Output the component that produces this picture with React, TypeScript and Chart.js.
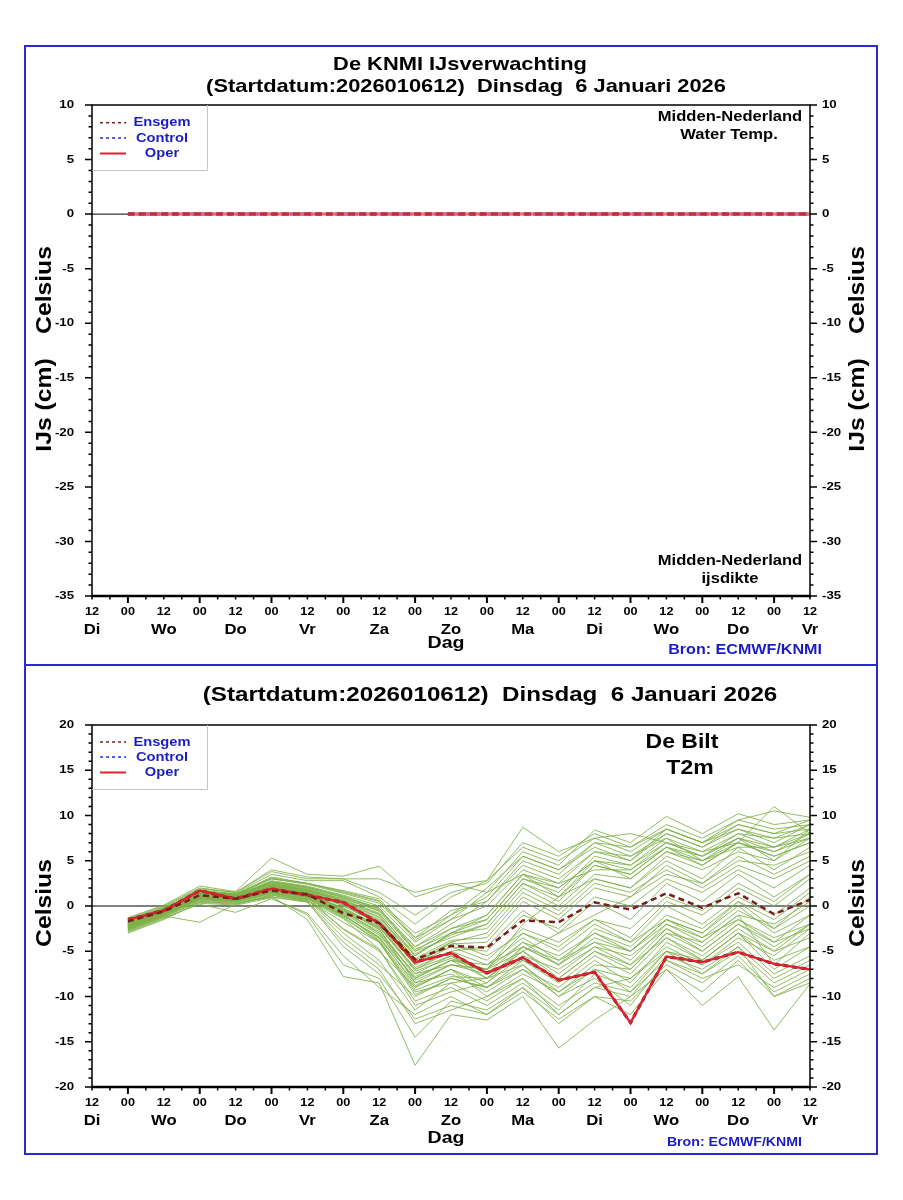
import React, { useEffect, useRef } from 'react';
import { Chart, registerables } from 'chart.js';

Chart.register(...registerables);

const FONT = '"Liberation Sans", Arial, Helvetica, sans-serif';
const SX = 1.15;

// x positions in 12-hour steps after Di 12 UTC (0 .. 20)
const HOUR_LABELS = ['12', '00', '12', '00', '12', '00', '12', '00', '12', '00', '12', '00', '12', '00', '12', '00', '12', '00', '12', '00', '12'];
const DAY_LABELS = ['Di', 'Wo', 'Do', 'Vr', 'Za', 'Zo', 'Ma', 'Di', 'Wo', 'Do', 'Vr'];
const X_STEPS = [1, 2, 3, 4, 5, 6, 7, 8, 9, 10, 11, 12, 13, 14, 15, 16, 17, 18, 19, 20];

const ICE_TICKS = [10, 5, 0, -5, -10, -15, -20, -25, -30, -35];
const T2M_TICKS = [20, 15, 10, 5, 0, -5, -10, -15, -20];

// Ice panel (all zero)
const ICE_OPER = [0, 0, 0, 0, 0, 0, 0, 0, 0, 0, 0, 0, 0, 0, 0, 0, 0, 0, 0, 0];
const ICE_CONTROL = [0, 0, 0, 0, 0, 0, 0, 0, 0, 0, 0, 0, 0, 0, 0, 0, 0, 0, 0, 0];
const ICE_ENSGEM = [0, 0, 0, 0, 0, 0, 0, 0, 0, 0, 0, 0, 0, 0, 0, 0, 0, 0, 0, 0];
const ICE_MEMBER = [0, 0, 0, 0, 0, 0, 0, 0, 0, 0, 0, 0, 0, 0, 0, 0, 0, 0, 0, 0];

// T2m De Bilt
const T2M_OPER = [-1.5, -0.5, 1.7, 0.8, 1.9, 1.2, 0.4, -1.9, -6.2, -5.2, -7.4, -5.7, -8.2, -7.3, -12.9, -5.6, -6.2, -5.1, -6.4, -7.0];
const T2M_CONTROL = [-1.5, -0.5, 1.7, 0.8, 1.9, 1.2, 0.4, -1.9, -6.2, -5.2, -7.4, -5.7, -8.2, -7.3, -12.9, -5.6, -6.2, -5.1, -6.4, -7.0];
const T2M_ENSGEM = [-1.7, -0.6, 1.2, 0.8, 1.7, 1.3, -0.8, -1.9, -5.9, -4.4, -4.6, -1.6, -1.8, 0.4, -0.4, 1.4, -0.2, 1.4, -0.9, 0.7];

const T2M_MEMBERS: number[][] = [
  [-2.0, -0.8, 1.0, 0.9, 2.2, 1.8, 0.5, -1.2, -5.5, -3.0, -1.0, 3.5, 2.0, 5.0, 4.0, 7.0, 5.5, 7.5, 6.0, 8.0],
  [-1.8, -0.5, 1.5, 1.2, 3.0, 2.5, 1.5, 0.5, -3.0, -1.0, 2.0, 5.5, 4.0, 6.5, 5.0, 8.0, 6.5, 8.5, 7.0, 9.0],
  [-2.4, -1.0, 0.8, 0.5, 1.5, 0.8, -1.0, -3.5, -8.0, -6.0, -7.0, -2.0, 1.0, 3.0, 2.0, 5.5, 4.0, 6.0, 5.0, 7.5],
  [-1.5, -0.3, 1.8, 1.3, 2.5, 1.8, 0.8, -0.5, -4.5, -2.0, 0.5, 4.5, 3.0, 6.0, 5.5, 7.5, 5.0, 6.5, 6.5, 8.5],
  [-2.7, -1.2, 0.5, 0.3, 1.0, 0.5, -3.5, -6.5, -10.0, -8.0, -9.0, -6.0, -8.0, -5.0, -7.0, -3.0, -5.0, -2.0, -4.0, -1.0],
  [-2.2, -0.6, 1.2, 1.0, 2.0, 1.5, 0.0, -2.0, -7.0, -5.5, -8.0, -6.5, -10.0, -8.0, -11.0, -6.0, -8.0, -6.5, -9.0, -7.0],
  [-1.9, -0.4, 1.4, 1.1, 2.8, 2.2, 1.2, 0.0, -4.0, -1.5, 1.5, 6.0, 4.5, 8.4, 7.0, 9.9, 8.0, 10.2, 9.0, 9.5],
  [-2.5, -0.9, 0.9, 0.7, 1.8, 1.0, -2.6, -5.0, -9.0, -7.0, -10.0, -8.0, -12.0, -9.0, -10.0, -5.5, -7.0, -4.5, -8.0, -6.0],
  [-1.6, -0.2, 1.6, 1.4, 3.5, 2.8, 2.8, 1.0, -2.0, 1.0, 2.8, 6.5, 5.0, 7.5, 6.0, 8.5, 7.0, 9.0, 8.0, 8.5],
  [-2.1, -0.7, 1.1, 0.8, 1.6, 1.0, -0.5, -3.0, -7.5, -6.5, -7.5, -4.0, -5.5, -3.0, -4.5, -1.0, -2.5, 0.5, -1.5, 1.5],
  [-2.3, -0.8, 1.3, 1.0, 2.2, 1.5, 0.2, -1.8, -6.5, -4.5, -5.0, -1.0, -2.5, 1.0, 0.0, 3.0, 1.5, 4.0, 2.0, 4.5],
  [-2.8, -1.3, 0.2, -0.7, 0.8, -0.8, -5.5, -9.0, -12.0, -10.0, -12.0, -9.0, -13.0, -10.0, -12.0, -7.0, -9.5, -6.0, -10.0, -8.0],
  [-1.7, -0.5, 1.6, 1.2, 2.6, 2.0, 1.0, -0.2, -5.0, -3.5, -2.0, 2.5, 0.5, 4.5, 3.5, 6.5, 4.5, 7.0, 5.5, 7.0],
  [-2.0, -0.6, 1.0, 0.9, 2.0, 1.4, -0.3, -2.5, -8.5, -7.5, -9.5, -7.0, -9.0, -6.0, -8.5, -4.0, -6.0, -3.0, -7.0, -4.5],
  [-2.6, -1.1, -1.8, 0.2, 1.2, 0.6, -1.8, -4.0, -9.5, -8.5, -8.0, -5.0, -3.0, -1.0, 1.0, 3.5, 2.5, 5.0, 4.5, 6.0],
  [-1.4, 0.0, 2.0, 1.5, 4.0, 3.2, 3.0, 3.0, 1.5, 2.5, 1.5, 3.5, 2.5, 4.0, 4.0, 6.5, 5.5, 8.0, 7.5, 8.0],
  [-2.2, -0.7, 1.2, 0.9, 1.9, 1.2, -0.8, -3.2, -8.0, -6.0, -6.5, -3.5, -6.0, -4.0, -6.0, -2.0, -4.0, -1.0, -6.5, -3.0],
  [-1.8, -0.4, 1.4, 1.2, 2.4, 1.7, 0.6, -1.0, -6.0, -4.0, -3.0, 1.5, -0.5, 3.0, 2.0, 5.0, 3.0, 6.5, 4.0, 6.5],
  [-2.4, -1.0, 0.8, 0.6, 1.4, 0.7, -2.5, -4.8, -10.5, -9.0, -11.0, -8.5, -11.5, -7.5, -9.0, -5.0, -6.5, -3.5, -5.5, -2.5],
  [-2.0, -0.5, 1.3, 1.0, 2.3, 1.6, 0.3, -1.5, -6.0, -4.5, -6.0, -2.5, -4.0, -1.5, -3.5, 0.5, -1.0, 2.0, 0.0, 3.0],
  [-1.6, -0.3, 1.7, 1.3, 3.2, 2.5, 1.7, 0.8, -3.5, -0.5, 0.5, 5.0, 3.5, 7.0, 6.5, 9.0, 7.5, 9.5, 10.5, 9.8],
  [-2.3, -0.9, 1.0, 0.7, 1.7, 1.1, -0.9, -3.8, -9.0, -7.0, -8.5, -5.5, -7.0, -4.5, -5.5, -2.5, -4.5, -1.5, -3.5, -2.0],
  [-3.0, -1.5, 0.4, 0.2, 1.1, -1.5, -7.8, -8.5, -17.6, -12.0, -12.6, -10.0, -15.7, -12.6, -10.0, -7.0, -11.0, -7.8, -13.7, -8.6],
  [-1.9, -0.6, 1.5, 1.1, 2.7, 2.1, 1.1, -0.3, -4.5, -2.5, -1.5, 3.0, 1.5, 5.5, 4.5, 7.5, 6.0, 8.0, 6.5, 7.5],
  [-2.1, -0.7, 1.1, 0.8, 1.8, 1.2, -0.6, -2.8, -7.5, -5.5, -7.5, -6.0, -8.5, -5.5, -7.5, -3.5, -5.5, -2.5, -5.0, -3.5],
  [-2.5, -1.0, 0.7, 0.5, 1.3, 0.6, -1.4, -4.8, -11.0, -9.5, -8.5, -4.5, -6.5, -2.5, -4.0, 0.0, -2.0, 1.0, -1.0, 2.0],
  [-1.7, -0.2, 1.5, 1.3, 3.0, 2.4, 1.4, 0.3, -3.5, -1.5, 0.0, 4.0, 2.5, 6.0, 5.0, 8.5, 7.0, 8.5, 7.5, 9.0],
  [-2.2, -0.8, 1.2, 0.9, 2.1, 1.4, -0.2, -2.2, -7.0, -5.0, -4.5, -0.5, -3.0, 0.5, -1.5, 2.5, 0.5, 3.5, 1.0, 3.5],
  [-2.6, -1.1, 0.6, 0.4, 1.2, 0.5, -4.5, -7.5, -12.5, -11.0, -12.0, -9.5, -12.5, -10.0, -10.5, -6.5, -8.5, -5.5, -9.5, -7.5],
  [-2.0, -0.5, 1.3, 1.0, 2.1, 1.5, 0.1, -2.0, -6.5, -4.0, -5.5, -3.0, -5.0, -2.0, -4.0, -1.5, -3.0, 0.0, -3.0, -1.0],
  [-1.5, -0.1, 1.9, 1.5, 3.8, 3.0, 3.0, 1.5, -1.0, 1.5, 2.5, 7.0, 5.5, 8.0, 6.5, 8.5, 7.0, 9.5, 8.5, 9.0],
  [-2.3, -0.9, 0.9, 0.7, 1.6, 1.0, -1.0, -3.6, -8.5, -6.5, -7.0, -3.0, -4.5, -1.5, -2.5, 1.0, -0.5, 2.5, 0.5, 3.5],
  [-2.1, -0.6, 1.2, 0.9, 2.0, 1.3, -0.4, -2.6, -7.8, -6.0, -8.0, -5.0, -7.5, -4.5, -6.5, -2.5, -5.0, -2.0, -4.5, -2.0],
  [-1.8, -0.4, 1.4, 1.1, 2.5, 1.9, 0.7, -0.8, -5.5, -3.0, -2.5, 2.0, 0.0, 3.5, 3.0, 6.0, 4.5, 7.0, 5.5, 7.0],
  [-2.4, -1.0, 0.8, 0.6, 1.5, 0.8, -1.3, -4.0, -9.8, -8.0, -9.0, -7.0, -10.0, -7.0, -8.0, -4.5, -6.5, -4.0, -7.5, -5.5],
  [-2.7, -1.2, 0.5, 0.3, 1.0, 0.4, -4.0, -7.0, -13.0, -11.5, -10.0, -7.5, -9.5, -6.5, -7.0, -3.0, -4.0, -1.0, -2.0, 0.5],
  [-1.9, -0.5, 1.5, 1.2, 2.6, 2.0, 0.9, -0.6, -5.0, -2.5, -1.0, 3.5, 1.0, 5.0, 3.0, 6.0, 5.0, 7.5, 5.0, 8.5],
  [-2.2, -0.7, 1.1, 0.8, 1.9, 1.3, -0.5, -2.4, -6.8, -5.0, -6.5, -4.5, -6.5, -3.5, -5.0, -2.0, -3.5, -1.5, -4.0, -2.5],
  [-2.0, -0.6, 1.3, 1.0, 2.2, 1.6, 0.2, -1.6, -6.2, -4.2, -4.0, 0.5, -1.5, 2.0, 1.0, 4.5, 2.5, 5.5, 3.5, 5.5],
  [-1.3, 0.1, 2.2, 1.6, 5.3, 3.5, 3.3, 4.4, 1.0, 2.3, 2.8, 8.7, 6.0, 7.5, 8.0, 7.0, 6.0, 7.0, 11.0, 8.0],
  [-2.5, -1.0, 0.7, 0.5, 1.4, 0.7, -3.0, -6.0, -11.5, -8.5, -10.5, -8.0, -11.0, -8.5, -9.5, -6.0, -7.5, -5.0, -8.5, -6.5],
  [-2.1, -0.7, 1.1, 0.8, 1.8, 1.2, -0.7, -3.0, -8.2, -6.5, -7.0, -4.0, -6.5, -4.0, -5.0, -1.5, -3.5, -0.5, -2.5, 0.0],
  [-1.8, -0.4, 1.5, 1.2, 2.7, 2.1, 1.0, -0.4, -4.8, -3.0, -1.5, 3.0, 2.0, 5.0, 4.5, 7.0, 5.5, 7.5, 6.5, 8.0],
  [-2.3, -0.8, 1.0, 0.8, 1.7, 1.0, -1.1, -3.4, -8.8, -7.0, -9.0, -6.5, -9.5, -7.0, -9.5, -5.0, -7.5, -4.5, -10.0, -8.5],
  [-2.0, -0.5, 1.3, 1.0, 2.3, 1.7, 0.4, -1.3, -5.8, -3.8, -3.5, 1.0, -1.0, 2.5, 1.5, 4.0, 2.0, 4.5, 3.0, 5.0],
  [-2.9, -1.4, 0.3, 0.1, 0.9, -1.0, -6.5, -8.0, -14.5, -10.5, -11.5, -9.0, -12.0, -9.0, -8.0, -5.0, -6.0, -3.0, -5.0, -2.0],
  [-1.7, -0.3, 1.6, 1.3, 3.1, 2.5, 1.6, 0.6, -3.8, -1.0, 1.0, 5.5, 4.0, 7.0, 5.5, 8.0, 6.5, 9.0, 8.0, 9.5],
  [-2.2, -0.8, 1.2, 0.9, 2.0, 1.4, -0.3, -2.3, -7.2, -5.8, -7.0, -5.0, -8.0, -5.0, -6.5, -3.5, -6.0, -3.0, -6.0, -4.5],
  [-2.4, -0.9, 0.9, 0.7, 1.6, 0.9, -1.2, -3.9, -9.3, -7.8, -8.0, -4.5, -6.0, -3.0, -5.0, -1.5, -3.0, 0.5, -2.5, 1.0],
  [-1.9, -0.5, 1.4, 1.1, 2.4, 1.8, 0.6, -0.9, -5.3, -3.2, -2.0, 2.5, 1.0, 4.5, 3.5, 6.5, 5.0, 7.0, 6.0, 7.5],
];

const BLUE_BORDER = '#2a2ad4';
const BLUE_TEXT = '#1c1cc4';
const GREEN = 'rgba(124,178,72,0.85)';
const OPER_RED = '#e0222c';
const ENSGEM_COLOR = '#7a1f1f';
const CONTROL_COLOR = '#2430d0';

type Txt = { text: string; x: number; y: number; size: number; align?: CanvasTextAlign; color?: string; rotate?: boolean; sx?: number };

function drawText(ctx: CanvasRenderingContext2D, t: Txt) {
  ctx.save();
  ctx.translate(t.x, t.y);
  if (t.rotate) ctx.rotate(-Math.PI / 2);
  ctx.scale(t.sx ?? SX, 1);
  ctx.font = `bold ${t.size}px ${FONT}`;
  ctx.textAlign = t.align ?? 'center';
  ctx.textBaseline = 'middle';
  ctx.fillStyle = t.color ?? '#000';
  ctx.fillText(t.text, 0, 0);
  ctx.restore();
}

type PanelSpec = {
  height: number;
  yMin: number;
  yMax: number;
  yTicks: number[];
  padBottom: number;
  texts: Txt[];
  legendTop: number;
  legendBottom: number;
  legendRows: number[];
  hourY: number;
  dayY: number;
  dagY: number;
};

function makePlugin(spec: PanelSpec) {
  return {
    id: 'knmiDecor',
    beforeDatasetsDraw(chart: any) {
      const ctx = chart.ctx as CanvasRenderingContext2D;
      const { left, right } = chart.chartArea;
      const y0 = chart.scales.y.getPixelForValue(0);
      ctx.save();
      ctx.strokeStyle = '#000';
      ctx.lineWidth = 1;
      ctx.beginPath();
      ctx.moveTo(left, y0);
      ctx.lineTo(right, y0);
      ctx.stroke();
      ctx.restore();
    },
    afterDatasetsDraw(chart: any) {
      const ctx = chart.ctx as CanvasRenderingContext2D;
      const { left, right, top, bottom } = chart.chartArea;
      const xs = chart.scales.x;
      const ys = chart.scales.y;
      ctx.save();
      // frame
      ctx.strokeStyle = '#000';
      ctx.lineWidth = 1.5;
      ctx.strokeRect(left, top, right - left, bottom - top);
      ctx.lineWidth = 2.5;
      ctx.beginPath();
      ctx.moveTo(left - 1, bottom);
      ctx.lineTo(right + 1, bottom);
      ctx.stroke();
      // y ticks (minor every unit, major every 5)
      ctx.lineWidth = 1.5;
      for (let v = spec.yMin; v <= spec.yMax; v += 1) {
        const py = ys.getPixelForValue(v);
        const len = v % 5 === 0 ? 7 : 3.5;
        ctx.beginPath();
        ctx.moveTo(left - len, py);
        ctx.lineTo(left, py);
        ctx.moveTo(right, py);
        ctx.lineTo(right + len, py);
        ctx.stroke();
      }
      // x ticks every 6h, long at 00
      for (let s = 0; s <= 40; s += 1) {
        const v = s / 2;
        const px = xs.getPixelForValue(v);
        const isMajor = s % 4 === 2;
        const len = isMajor ? 7 : 3.5;
        ctx.lineWidth = isMajor ? 2 : 1.5;
        ctx.beginPath();
        ctx.moveTo(px, bottom);
        ctx.lineTo(px, bottom + len);
        ctx.stroke();
      }
      ctx.restore();

      // y tick labels
      spec.yTicks.forEach((v) => {
        const py = ys.getPixelForValue(v);
        drawText(ctx, { text: String(v), x: left - 18, y: py, size: 11.5, align: 'right' });
        drawText(ctx, { text: String(v), x: right + 12, y: py, size: 11.5, align: 'left' });
      });
      // x tick labels
      HOUR_LABELS.forEach((lab, i) => {
        drawText(ctx, { text: lab, x: xs.getPixelForValue(i), y: spec.hourY, size: 11 });
      });
      DAY_LABELS.forEach((lab, i) => {
        drawText(ctx, { text: lab, x: xs.getPixelForValue(i * 2), y: spec.dayY, size: 14.5 });
      });
      drawText(ctx, { text: 'Dag', x: (left + right) / 2 - 5, y: spec.dagY, size: 17 });

      // legend box
      const lx0 = left;
      const lx1 = left + 115;
      ctx.save();
      ctx.fillStyle = '#fff';
      ctx.fillRect(lx0 + 1, spec.legendTop + 1, lx1 - lx0 - 1, spec.legendBottom - spec.legendTop - 1);
      ctx.strokeStyle = '#c4c4c4';
      ctx.lineWidth = 1;
      ctx.beginPath();
      ctx.moveTo(lx0, spec.legendBottom + 0.5);
      ctx.lineTo(lx1 + 0.5, spec.legendBottom + 0.5);
      ctx.lineTo(lx1 + 0.5, spec.legendTop);
      ctx.stroke();
      const rows = [
        { name: 'Ensgem', color: ENSGEM_COLOR, dash: [3, 3], w: 1.5 },
        { name: 'Control', color: CONTROL_COLOR, dash: [3, 3], w: 1.5 },
        { name: 'Oper', color: OPER_RED, dash: [] as number[], w: 2 },
      ];
      rows.forEach((r, i) => {
        const y = spec.legendRows[i];
        ctx.strokeStyle = r.color;
        ctx.lineWidth = r.w;
        ctx.setLineDash(r.dash);
        ctx.beginPath();
        ctx.moveTo(left + 8, y);
        ctx.lineTo(left + 34, y);
        ctx.stroke();
      });
      ctx.setLineDash([]);
      ctx.restore();
      rows.forEach((r, i) => {
        drawText(ctx, { text: r.name, x: left + 70, y: spec.legendRows[i], size: 13, color: BLUE_TEXT, sx: 1.13 });
      });

      spec.texts.forEach((t) => drawText(ctx, t));
    },
  };
}

function buildDatasets(members: number[][], ensgem: number[], control: number[], oper: number[], ice: boolean) {
  const pts = (arr: number[]) => X_STEPS.map((x, i) => ({ x, y: arr[i] }));
  const ds: any[] = [];
  ds.push({
    label: 'Ensgem',
    data: pts(ensgem),
    borderColor: ice ? 'rgba(196,40,62,0.95)' : ENSGEM_COLOR,
    borderWidth: ice ? 3.5 : 2.5,
    borderDash: ice ? [7, 4] : [6, 4],
    order: 1,
  });
  ds.push({
    label: 'Oper',
    data: pts(oper),
    borderColor: ice ? 'rgba(232,110,125,0.9)' : OPER_RED,
    borderWidth: ice ? 3.5 : 2.4,
    order: 2,
  });
  ds.push({
    label: 'Control',
    data: pts(control),
    borderColor: ice ? CONTROL_COLOR : '#6a1840',
    borderWidth: 3,
    borderDash: [5, 4],
    order: 3,
  });
  members.forEach((m, i) => {
    ds.push({ label: 'm' + (i + 1), data: pts(m), borderColor: GREEN, borderWidth: 1, order: 4 });
  });
  return ds;
}

const CANVAS_W = 854;

function Panel({ spec, datasets, top }: { spec: PanelSpec; datasets: any[]; top: number }) {
  const ref = useRef<HTMLCanvasElement>(null);
  useEffect(() => {
    const chart = new Chart(ref.current as HTMLCanvasElement, {
      type: 'line',
      data: { datasets },
      options: {
        animation: false,
        responsive: false,
        events: [],
        layout: { padding: { left: 68, right: 68, top: 60, bottom: spec.padBottom } },
        elements: { point: { radius: 0 }, line: { tension: 0 } },
        scales: {
          x: { type: 'linear', min: 0, max: 20, display: false },
          y: { type: 'linear', min: spec.yMin, max: spec.yMax, display: false },
        },
        plugins: { legend: { display: false }, tooltip: { enabled: false }, title: { display: false } },
      },
      plugins: [makePlugin(spec)],
    } as any);
    return () => chart.destroy();
  }, []);
  return (
    <canvas
      ref={ref}
      width={CANVAS_W}
      height={spec.height}
      style={{ position: 'absolute', left: 16, top, width: CANVAS_W, height: spec.height }}
    />
  );
}

const ICE_SPEC: PanelSpec = {
  height: 620,
  yMin: -35,
  yMax: 10,
  yTicks: ICE_TICKS,
  padBottom: 69,
  hourY: 567,
  dayY: 585,
  dagY: 598,
  legendTop: 60,
  legendBottom: 125,
  legendRows: [77.7, 93, 108.5],
  texts: [
    { text: 'De KNMI IJsverwachting', x: 436, y: 20, size: 19 },
    { text: '(Startdatum:2026010612)  Dinsdag  6 Januari 2026', x: 442, y: 42, size: 19 },
    { text: 'Midden-Nederland', x: 706, y: 72, size: 14.4 },
    { text: 'Water Temp.', x: 705, y: 90, size: 14.4 },
    { text: 'Midden-Nederland', x: 706, y: 516, size: 14.4 },
    { text: 'ijsdikte', x: 706, y: 534, size: 14.4 },
    { text: 'Celsius', x: 21, y: 245, size: 21.5, rotate: true },
    { text: 'IJs (cm)', x: 21, y: 360, size: 21.5, rotate: true },
    { text: 'Celsius', x: 834, y: 245, size: 21.5, rotate: true },
    { text: 'IJs (cm)', x: 834, y: 360, size: 21.5, rotate: true },
    { text: 'Bron: ECMWF/KNMI', x: 798, y: 605, size: 14, align: 'right', color: BLUE_TEXT },
  ],
};

const T2M_SPEC: PanelSpec = {
  height: 490,
  yMin: -20,
  yMax: 20,
  yTicks: T2M_TICKS,
  padBottom: 68,
  hourY: 438,
  dayY: 456,
  dagY: 473,
  legendTop: 60,
  legendBottom: 124,
  legendRows: [77, 92, 107.5],
  texts: [
    { text: '(Startdatum:2026010612)  Dinsdag  6 Januari 2026', x: 466, y: 30, size: 21 },
    { text: 'De Bilt', x: 658, y: 77, size: 20 },
    { text: 'T2m', x: 666, y: 103, size: 20 },
    { text: 'Celsius', x: 21, y: 238, size: 21.5, rotate: true },
    { text: 'Celsius', x: 834, y: 238, size: 21.5, rotate: true },
    { text: 'Bron: ECMWF/KNMI', x: 778, y: 478, size: 12.3, align: 'right', color: BLUE_TEXT },
  ],
};

export default function App() {
  const iceMembers = [ICE_MEMBER];
  return (
    <div style={{ position: 'relative', width: 887, height: 1160, background: '#fff' }}>
      <Panel spec={ICE_SPEC} datasets={buildDatasets(iceMembers, ICE_ENSGEM, ICE_CONTROL, ICE_OPER, true)} top={37} />
      <Panel spec={T2M_SPEC} datasets={buildDatasets(T2M_MEMBERS, T2M_ENSGEM, T2M_CONTROL, T2M_OPER, false)} top={657} />
      <div
        style={{
          position: 'absolute',
          left: 16,
          top: 37,
          width: 854,
          height: 1110,
          border: `2px solid ${BLUE_BORDER}`,
          boxSizing: 'border-box',
          pointerEvents: 'none',
        }}
      />
      <div style={{ position: 'absolute', left: 16, top: 656, width: 854, height: 2, background: BLUE_BORDER }} />
    </div>
  );
}
